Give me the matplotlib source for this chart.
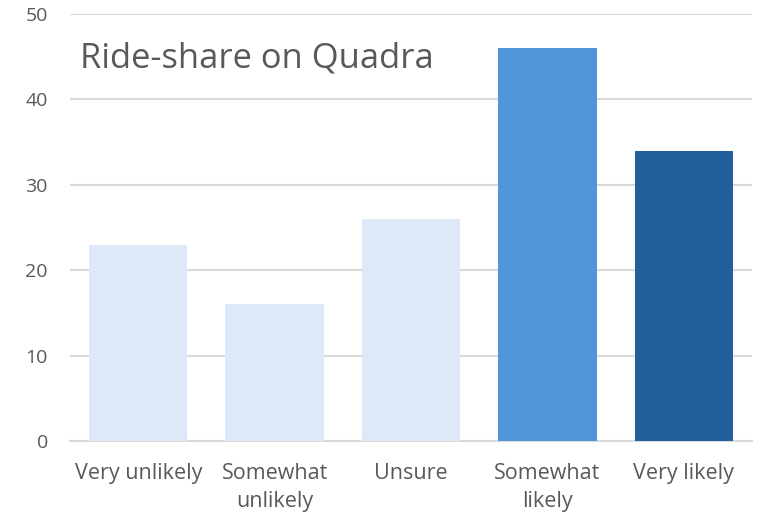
import matplotlib
matplotlib.use("Agg")
import matplotlib.pyplot as plt

categories = ["Very unlikely", "Somewhat\nunlikely", "Unsure", "Somewhat\nlikely", "Very likely"]
values = [23, 16, 26, 46, 34]
colors = ["#DDE9F6", "#DDE9F6", "#DDE9F6", "#4F95DA", "#21609D"]
yticks = [0, 10, 20, 30, 40, 50]
title = "Ride-share on Quadra"

plt.rcParams['font.family'] = ['Open Sans', 'DejaVu Sans']
fig = plt.figure(figsize=(7.69, 5.27), dpi=100)
ax = fig.add_axes([70/769, 1-441/527, 682/769, 427/527])
x = list(range(len(categories)))
ax.bar(x, values, width=0.72, color=colors, zorder=3)
ax.set_xlim(-0.5, len(categories)-0.5)
ax.set_ylim(0, 50)
ax.set_yticks(yticks)
ax.set_xticks(x)
ax.set_xticklabels(categories, linespacing=1.45)
ax.grid(axis='y', color='#D9D9D9', linewidth=1.5, zorder=0)
for s in ['top', 'right', 'left']:
    ax.spines[s].set_visible(False)
ax.spines['bottom'].set_color('#D9D9D9')
ax.spines['bottom'].set_linewidth(1.5)
ax.tick_params(axis='both', length=0, colors='#595959')
ax.tick_params(axis='y', pad=16, labelsize=14)
ax.tick_params(axis='x', pad=15.5, labelsize=15.5)
ax.text(0.015, 0.895, title, transform=ax.transAxes, fontsize=24.8, color='#595959',
        ha='left', va='center')
fig.savefig("out.png", dpi=100)
